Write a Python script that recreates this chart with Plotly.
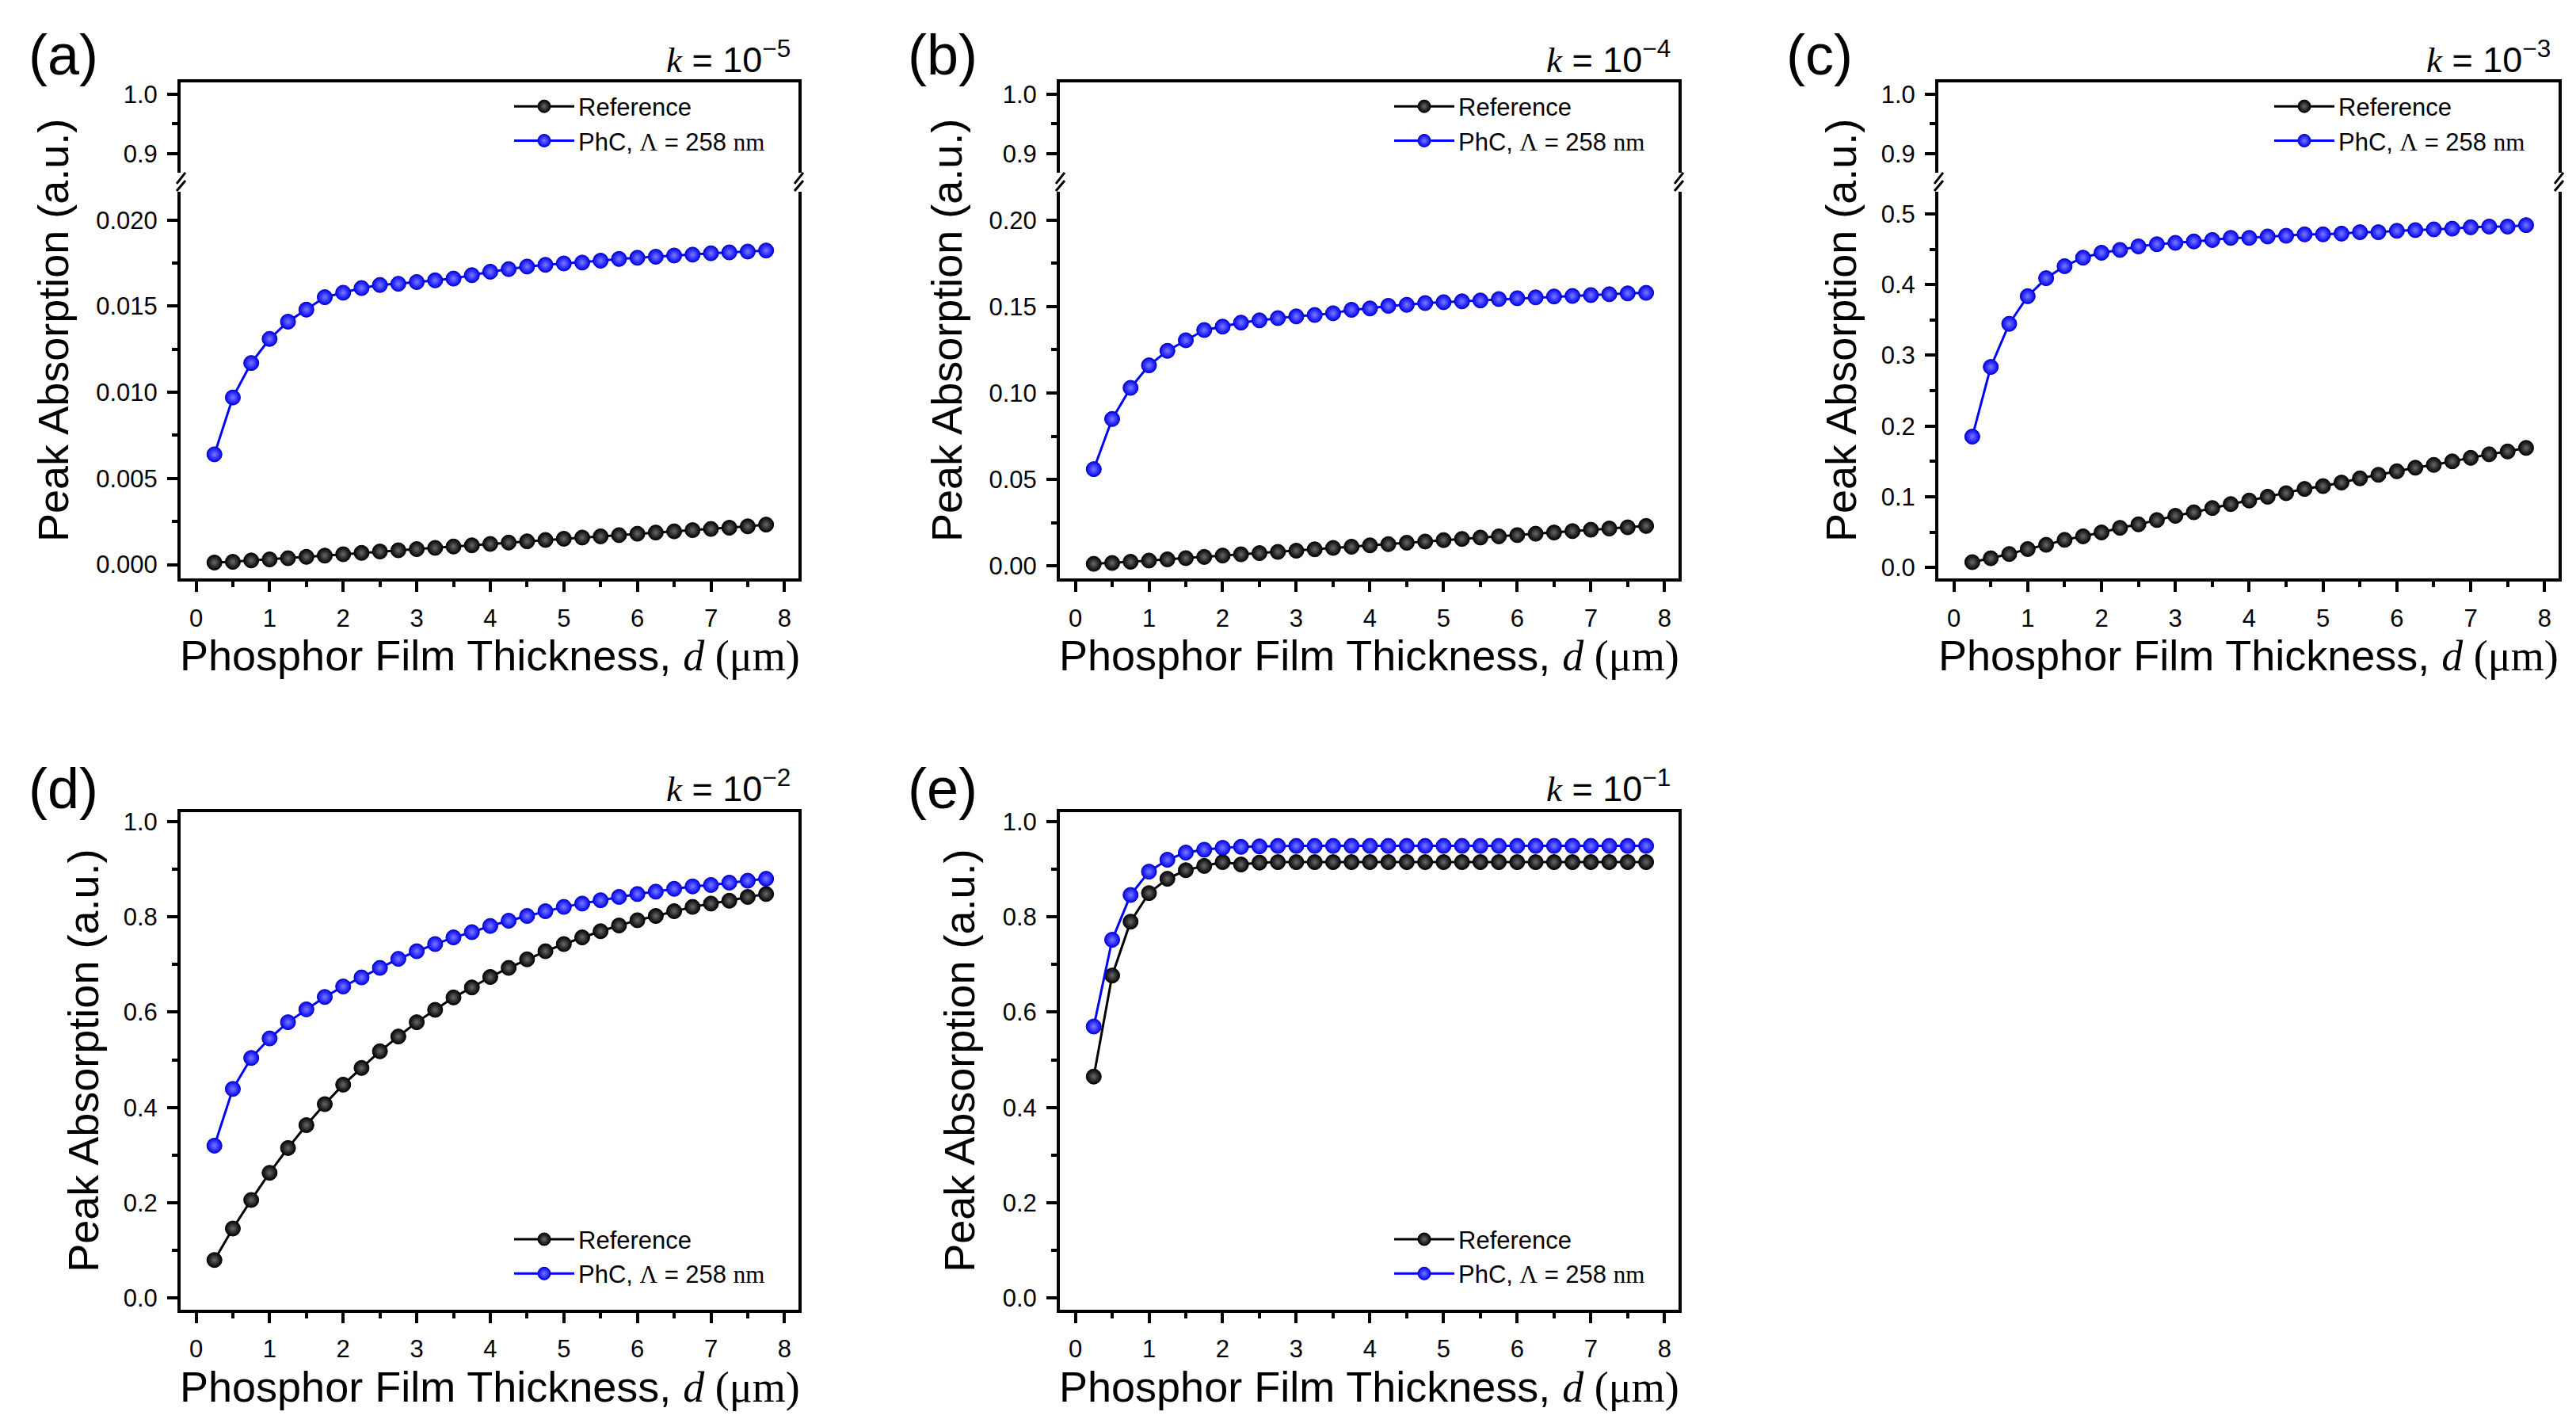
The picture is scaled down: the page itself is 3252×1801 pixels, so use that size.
import plotly.graph_objects as go

# ---------------- data ----------------
thickness = [0.25, 0.5, 0.75, 1.0, 1.25, 1.5, 1.75, 2.0, 2.25, 2.5, 2.75, 3.0, 3.25, 3.5, 3.75, 4.0,
             4.25, 4.5, 4.75, 5.0, 5.25, 5.5, 5.75, 6.0, 6.25, 6.5, 6.75, 7.0, 7.25, 7.5, 7.75]

ref_a = [0.00012, 0.00016, 0.00024, 0.0003, 0.00037, 0.00045, 0.00052, 0.0006, 0.00068, 0.00076,
         0.00083, 0.0009, 0.00097, 0.00105, 0.00112, 0.0012, 0.00128, 0.00135, 0.00143, 0.0015,
         0.00157, 0.00164, 0.00171, 0.00179, 0.00186, 0.00193, 0.002, 0.00207, 0.00214, 0.00222, 0.00232]
phc_a = [0.0064, 0.0097, 0.0117, 0.0131, 0.0141, 0.0148, 0.01552, 0.01578, 0.01605, 0.01623, 0.0163,
         0.0164, 0.0165, 0.0166, 0.0168, 0.0170, 0.01715, 0.0173, 0.0174, 0.01748, 0.01753, 0.01764,
         0.01774, 0.01781, 0.01787, 0.01794, 0.01799, 0.01807, 0.01812, 0.01817, 0.01823]

ref_b = [0.0013, 0.0018, 0.0025, 0.0032, 0.0039, 0.0046, 0.0053, 0.0061, 0.0068, 0.0075, 0.0082,
         0.0089, 0.0097, 0.0105, 0.0112, 0.012, 0.0127, 0.0135, 0.0142, 0.015, 0.0157, 0.0165,
         0.0172, 0.0179, 0.0187, 0.0194, 0.0202, 0.021, 0.0217, 0.0224, 0.0232]
phc_b = [0.056, 0.085, 0.103, 0.116, 0.1244, 0.1305, 0.1364, 0.1384, 0.1407, 0.142, 0.1433, 0.1443,
         0.1451, 0.1461, 0.1481, 0.1489, 0.1504, 0.151, 0.152, 0.1525, 0.153, 0.1535, 0.1543, 0.1548,
         0.1553, 0.1558, 0.1561, 0.1566, 0.1571, 0.1576, 0.1579]

ref_c = [0.0075, 0.013, 0.019, 0.026, 0.032, 0.039, 0.044, 0.0495, 0.056, 0.061, 0.067, 0.073, 0.078,
         0.084, 0.0896, 0.0946, 0.1, 0.105, 0.111, 0.115, 0.12, 0.126, 0.131, 0.136, 0.141, 0.145,
         0.15, 0.155, 0.16, 0.164, 0.169]
phc_c = [0.185, 0.2835, 0.3445, 0.3835, 0.409, 0.426, 0.438, 0.445, 0.449, 0.454, 0.457, 0.459, 0.461,
         0.463, 0.466, 0.466, 0.468, 0.469, 0.471, 0.471, 0.472, 0.474, 0.474, 0.476, 0.477, 0.478,
         0.479, 0.481, 0.482, 0.482, 0.484]

ref_d = [0.080, 0.146, 0.206, 0.263, 0.315, 0.363, 0.407, 0.448, 0.483, 0.518, 0.549, 0.579, 0.605,
         0.631, 0.652, 0.674, 0.693, 0.711, 0.728, 0.743, 0.757, 0.770, 0.782, 0.793, 0.802, 0.812,
         0.821, 0.828, 0.834, 0.842, 0.848]
phc_d = [0.320, 0.439, 0.504, 0.545, 0.579, 0.606, 0.632, 0.654, 0.673, 0.693, 0.712, 0.728, 0.743,
         0.757, 0.768, 0.781, 0.792, 0.802, 0.812, 0.821, 0.828, 0.835, 0.842, 0.848, 0.853, 0.859,
         0.864, 0.867, 0.872, 0.876, 0.880]

ref_e = [0.465, 0.677, 0.790, 0.850, 0.880, 0.898, 0.907, 0.915, 0.910, 0.914, 0.915, 0.915, 0.915,
         0.915, 0.915, 0.915, 0.915, 0.915, 0.915, 0.915, 0.915, 0.915, 0.915, 0.915, 0.915, 0.915,
         0.915, 0.915, 0.915, 0.915, 0.915]
phc_e = [0.570, 0.752, 0.846, 0.895, 0.920, 0.935, 0.941, 0.945, 0.947, 0.948, 0.949, 0.949, 0.949,
         0.949, 0.949, 0.949, 0.949, 0.949, 0.949, 0.949, 0.949, 0.949, 0.949, 0.949, 0.949, 0.949,
         0.949, 0.949, 0.949, 0.949, 0.949]

panel_letters = ["(a)", "(b)", "(c)", "(d)", "(e)"]
k_exponents = ["−5", "−4", "−3", "−2", "−1"]
series_names = ["Reference", "PhC, <span style=\"font-family:Liberation Serif\">Λ</span> = 258 <span style=\"font-family:Liberation Serif\">nm</span>"]

# ---------------- layout geometry (pixels) ----------------
W, H = 3252, 1801
SANS = "Liberation Sans"
SERIF = "Liberation Serif"

def px(x):
    return x / W

def py(y):
    return 1 - y / H

cols = [(220, 1000), (1330, 2111), (2439, 3222)]
row1_upper = (91, 206)
row1_lower = (230, 721)
row2 = (1017, 1648)
xrange_ = [-0.21, 8.19]

panels = [
    dict(col=0, row=1, ref=ref_a, phc=phc_a, yr=[-0.00082, 0.021648], dt=0.005, fmt=".3f", ytx=59),
    dict(col=1, row=1, ref=ref_b, phc=phc_b, yr=[-0.0073, 0.2164], dt=0.05, fmt=".2f", ytx=1187),
    dict(col=2, row=1, ref=ref_c, phc=phc_c, yr=[-0.01594, 0.5314], dt=0.1, fmt=".1f", ytx=2316),
    dict(col=0, row=2, ref=ref_d, phc=phc_d, yr=[-0.024, 1.02], dt=0.2, fmt=".1f", ytx=97),
    dict(col=1, row=2, ref=ref_e, phc=phc_e, yr=[-0.024, 1.02], dt=0.2, fmt=".1f", ytx=1203),
]

fig = go.Figure()
layout = dict(width=W, height=H, autosize=False, margin=dict(l=0, r=0, t=0, b=0),
              paper_bgcolor="white", plot_bgcolor="white", showlegend=True)
annotations = []
shapes = []

tickfont = dict(family=SANS, size=31, color="black")
axis_common = dict(showline=True, linewidth=4, linecolor="black", ticks="outside", ticklen=13,
                   tickwidth=3.5, tickcolor="black", showgrid=False, zeroline=False, tickfont=tickfont)
minor_common = dict(ticks="outside", ticklen=7, tickwidth=3.5, tickcolor="black", tick0=0)

axis_idx = 1
for i, p in enumerate(panels):
    c0, c1 = cols[p["col"]]
    xdom = [px(c0), px(c1)]
    xa = "xaxis" if axis_idx == 1 else f"xaxis{axis_idx}"
    ya = "yaxis" if axis_idx == 1 else f"yaxis{axis_idx}"
    xr = "x" if axis_idx == 1 else f"x{axis_idx}"
    yr = "y" if axis_idx == 1 else f"y{axis_idx}"
    if p["row"] == 1:
        ydom = [py(row1_lower[1]), py(row1_lower[0])]
        top_px = row1_upper[0]
        bottom_px = row1_lower[1]
    else:
        ydom = [py(row2[1]), py(row2[0])]
        top_px = row2[0]
        bottom_px = row2[1]

    layout[xa] = dict(axis_common, domain=xdom, anchor=yr, range=xrange_, dtick=1, tick0=0,
                      mirror=(p["row"] == 2), ticklabelstandoff=6,
                      minor=dict(minor_common, dtick=0.5))
    layout[ya] = dict(axis_common, domain=ydom, anchor=xr, range=p["yr"], dtick=p["dt"], tick0=0,
                      tickformat=p["fmt"], mirror=True, ticklabelstandoff=6,
                      minor=dict(minor_common, dtick=p["dt"] / 2))

    leg = "legend" if i == 0 else f"legend{i + 1}"
    for name, data, col, grad, edge in [
        (series_names[0], p["ref"], "#000000", "#6a6a6a", "#000000"),
        (series_names[1], p["phc"], "#0000ff", "#7a7aff", "#0000a0"),
    ]:
        fig.add_trace(go.Scatter(
            x=thickness, y=data, xaxis=xr, yaxis=yr, mode="lines+markers", name=name,
            legend=leg,
            line=dict(color=col, width=3),
            marker=dict(size=19, color=col, gradient=dict(type="radial", color=grad),
                        line=dict(width=1, color=edge)),
        ))

    leg_top = 95 if p["row"] == 1 else 1532
    layout[leg] = dict(x=px(c1 - 364), y=py(leg_top), xanchor="left", yanchor="top",
                       bgcolor="rgba(0,0,0,0)", borderwidth=0, itemwidth=76,
                       font=dict(family=SANS, size=31, color="black"), tracegroupgap=0)

    if p["row"] == 1:
        # upper segment of the broken axis
        axis_idx2 = axis_idx + 1
        xa2, ya2 = f"xaxis{axis_idx2}", f"yaxis{axis_idx2}"
        xr2, yr2 = f"x{axis_idx2}", f"y{axis_idx2}"
        layout[xa2] = dict(showline=True, linewidth=4, linecolor="black", domain=xdom, anchor=yr2,
                           side="top", range=xrange_, showticklabels=False, ticks="",
                           showgrid=False, zeroline=False)
        layout[ya2] = dict(axis_common, domain=[py(row1_upper[1]), py(row1_upper[0])], anchor=xr2,
                           range=[0.8676, 1.02093], dtick=0.1, tick0=0, tickformat=".1f",
                           mirror=True, ticklabelstandoff=6,
                           minor=dict(minor_common, dtick=0.05))
        fig.add_trace(go.Scatter(x=[None], y=[None], xaxis=xr2, yaxis=yr2, showlegend=False,
                                 hoverinfo="skip"))
        # "//" break marks on both spines
        yc = py(218)
        for xs in (c0, c1):
            for (y0, y1) in ((-2, 12), (-11, 2)):
                shapes.append(dict(type="line", xref="paper", yref="paper",
                                   xsizemode="pixel", ysizemode="pixel",
                                   xanchor=px(xs), yanchor=yc,
                                   x0=-5, x1=6, y0=y0, y1=y1,
                                   line=dict(color="black", width=3)))
        axis_idx += 2
    else:
        axis_idx += 1

    # texts
    letter_x = c0 - 194
    letter_y = 56 if p["row"] == 1 else 987
    annotations.append(dict(text=panel_letters[i], x=px(letter_x), y=py(letter_y), xref="paper",
                            yref="paper", xanchor="left", yanchor="middle", showarrow=False,
                            font=dict(family=SANS, size=72, color="black")))
    k_y = 59 if p["row"] == 1 else 984
    annotations.append(dict(
        text=f"<span style=\"font-family:{SERIF}\"><i>k</i></span> = 10<sup>{k_exponents[i]}</sup>",
        x=px(c1 - 8), y=py(k_y), xref="paper", yref="paper", xanchor="right", yanchor="middle",
        showarrow=False, font=dict(family=SANS, size=45, color="black")))
    annotations.append(dict(
        text=f"Phosphor Film Thickness, <span style=\"font-family:{SERIF}\"><i>d</i> (μm)</span>",
        x=px((c0 + c1) / 2), y=py(bottom_px + 98), xref="paper", yref="paper",
        xanchor="center", yanchor="middle", showarrow=False,
        font=dict(family=SANS, size=54, color="black")))
    annotations.append(dict(
        text="Peak Absorption (a.u.)", x=px(p["ytx"]), y=py((top_px + bottom_px) / 2),
        xref="paper", yref="paper", xanchor="center", yanchor="middle", textangle=-90,
        showarrow=False, font=dict(family=SANS, size=54, color="black")))

layout["annotations"] = annotations
layout["shapes"] = shapes
fig.update_layout(**layout)
fig.write_html("out.html")
